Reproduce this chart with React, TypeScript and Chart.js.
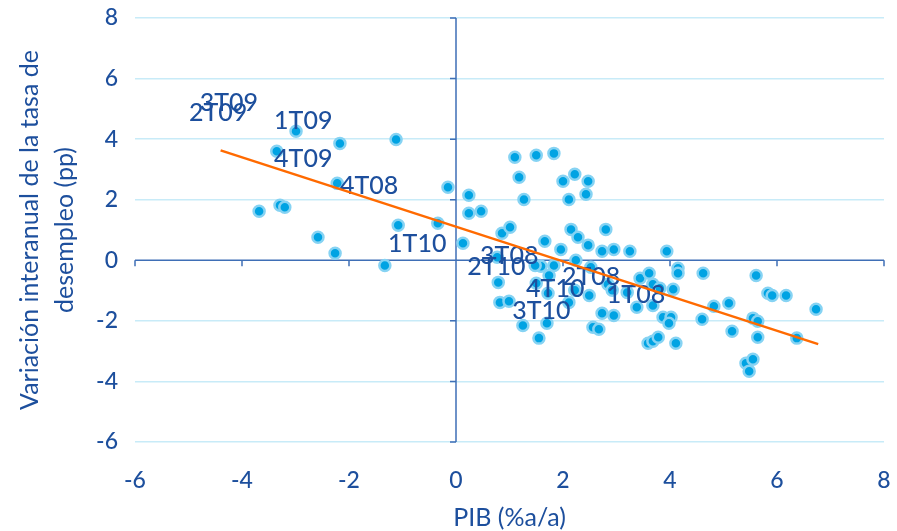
import React, { useEffect, useRef } from "react";
import { Chart, registerables } from "chart.js";

Chart.register(...registerables);

// Regional observations: GDP growth (x) vs. change in unemployment rate (y)
const regionX = [
  -2.99, -2.17, -1.12, -3.35, -2.22, -0.15, 0.24, 0.24, 0.47, -3.68, -3.29, -3.2, -1.08, -0.34, -2.58, -2.26, -1.33, 0.13,
  1.1, 1.5, 1.83, 1.18, 1.27, 2.0, 2.22, 2.47, 2.11, 2.43, 0.86, 1.01, 1.66, 1.96, 2.15, 2.28, 2.47, 2.8, 2.73, 2.95, 3.25, 2.24, 3.94,
  4.15, 4.15, 4.62, 5.61, 5.83, 5.91, 6.17, 6.73, 4.82, 5.1, 5.55, 5.64, 5.16, 5.64, 6.37, 5.42, 5.55, 5.48, 4.6, 4.11, 3.59, 3.68, 3.78,
  3.87, 4.02, 3.98, 3.38, 3.68, 3.44, 3.61, 3.68, 3.81, 4.06, 2.73, 2.95, 2.56, 2.67, 2.49, 2.52, 2.84, 2.92, 3.2,
  0.79, 0.82, 0.99, 1.25, 1.7, 1.55, 1.59, 1.83, 1.74, 1.5, 1.72, 2.22, 2.11, 0.77, 1.48,
];
const regionY = [
  4.26, 3.86, 3.99, 3.6, 2.54, 2.41, 2.15, 1.55, 1.62, 1.62, 1.82, 1.75, 1.16, 1.22, 0.76, 0.23, -0.17, 0.56,
  3.4, 3.47, 3.53, 2.74, 2.01, 2.61, 2.84, 2.61, 2.01, 2.18, 0.89, 1.09, 0.63, 0.36, 1.02, 0.76, 0.5, 1.02, 0.3, 0.36, 0.3, 0.0, 0.3,
  -0.26, -0.43, -0.43, -0.5, -1.09, -1.16, -1.16, -1.62, -1.52, -1.42, -1.91, -2.01, -2.34, -2.54, -2.57, -3.4, -3.27, -3.66, -1.95, -2.74, -2.74, -2.67, -2.54,
  -1.88, -1.88, -2.08, -1.55, -1.49, -0.59, -0.43, -0.79, -0.92, -0.96, -1.75, -1.82, -2.21, -2.28, -1.16, -0.23, -0.79, -0.99, -1.06,
  -0.73, -1.39, -1.35, -2.15, -2.08, -2.57, -0.2, -0.17, -0.5, -0.76, -1.09, -0.99, -1.39, 0.1, -0.17,
];

// National quarters (label anchors)
const quarterLabels = ["3T09", "2T09", "1T09", "4T09", "4T08", "1T10", "3T08", "2T10", "2T08", "4T10", "1T08", "3T10"];
const quarterX = [-4.79, -4.99, -3.4, -3.4, -2.17, -1.27, 0.45, 0.21, 1.98, 1.31, 2.82, 1.05];
const quarterY = [5.21, 4.85, 4.59, 3.33, 2.44, 0.53, 0.13, -0.23, -0.56, -0.96, -1.16, -1.68];

// Linear trend end points
const trendX = [-4.4, 6.77];
const trendY = [3.63, -2.77];

const xTicks = [-6, -4, -2, 0, 2, 4, 6, 8];
const yTicks = [-6, -4, -2, 0, 2, 4, 6, 8];

const TEXT = "#1d4f9d";
const AXIS = "#3f6fb6";
const GRID = "#c8ebf8";
const FONT = "Lato, 'Open Sans', sans-serif";

export default function App() {
  const ref = useRef<HTMLCanvasElement>(null);

  useEffect(() => {
    document.body.style.margin = "0";
    const canvas = ref.current;
    if (!canvas) return;

    const axesPlugin = {
      id: "zeroAxes",
      beforeDatasetsDraw(chart: any) {
        const ctx = chart.ctx;
        const xs = chart.scales.x;
        const ys = chart.scales.y;
        const x0 = xs.getPixelForValue(0);
        const y0 = ys.getPixelForValue(0);
        ctx.save();
        ctx.strokeStyle = AXIS;
        ctx.lineWidth = 1.5;
        ctx.beginPath();
        ctx.moveTo(xs.left, y0);
        ctx.lineTo(xs.right, y0);
        ctx.moveTo(x0, ys.top);
        ctx.lineTo(x0, ys.bottom);
        xTicks.forEach((v) => {
          const px = xs.getPixelForValue(v);
          ctx.moveTo(px, y0);
          ctx.lineTo(px, y0 + 6);
        });
        yTicks.forEach((v) => {
          const py = ys.getPixelForValue(v);
          ctx.moveTo(x0 - 6, py);
          ctx.lineTo(x0, py);
        });
        ctx.stroke();
        ctx.restore();
      },
    };

    const labelsPlugin = {
      id: "quarterLabels",
      afterDatasetDraw(chart: any, args: any) {
        if (args.index !== 1) return;
        const ctx = chart.ctx;
        const xs = chart.scales.x;
        const ys = chart.scales.y;
        ctx.save();
        ctx.font = `500 25px ${FONT}`;
        ctx.fillStyle = TEXT;
        ctx.textAlign = "left";
        ctx.textBaseline = "middle";
        quarterLabels.forEach((t, i) => {
          ctx.fillText(t, xs.getPixelForValue(quarterX[i]), ys.getPixelForValue(quarterY[i]));
        });
        ctx.restore();
      },
    };

    const chart = new Chart(canvas, {
      type: "scatter",
      data: {
        datasets: [
          {
            label: "CCAA",
            data: regionX.map((x, i) => ({ x, y: regionY[i] })),
            backgroundColor: "#00a3e3",
            borderColor: "#86d3f3",
            borderWidth: 2.5,
            pointRadius: 5.5,
            order: 3,
          },
          {
            label: "España",
            data: quarterX.map((x, i) => ({ x, y: quarterY[i] })),
            pointRadius: 0,
            backgroundColor: "transparent",
            borderColor: "transparent",
            order: 2,
          },
          {
            type: "line",
            label: "Tendencia",
            data: trendX.map((x, i) => ({ x, y: trendY[i] })),
            borderColor: "#ff6a00",
            borderWidth: 2.5,
            pointRadius: 0,
            showLine: true,
            fill: false,
            order: 1,
          } as any,
        ],
      },
      options: {
        responsive: false,
        animation: false,
        layout: { padding: { left: 0, right: 13, top: 18, bottom: 0 } },
        plugins: {
          legend: { display: false },
          tooltip: { enabled: false },
        },
        scales: {
          x: {
            type: "linear",
            min: -6,
            max: 8,
            afterBuildTicks: (s: any) => {
              s.ticks = xTicks.map((v) => ({ value: v }));
            },
            ticks: { color: TEXT, font: { family: FONT, size: 23, weight: "500" }, padding: 25 },
            grid: { display: false, drawTicks: false },
            border: { display: false },
            title: {
              display: true,
              text: "PIB (%a/a)",
              color: TEXT,
              font: { family: FONT, size: 25, lineHeight: 1 },
              padding: { top: 0, bottom: 1 },
            },
            afterFit: (s: any) => {
              s.height = 89;
              s.paddingLeft = 0;
              s.paddingRight = 0;
            },
          },
          y: {
            type: "linear",
            min: -6,
            max: 8,
            afterBuildTicks: (s: any) => {
              s.ticks = yTicks.map((v) => ({ value: v }));
            },
            ticks: { color: TEXT, font: { family: FONT, size: 23, weight: "500" }, padding: 17 },
            grid: {
              drawTicks: false,
              color: (c: any) => (c.tick && c.tick.value === 0 ? "rgba(0,0,0,0)" : GRID),
              lineWidth: 1.5,
            },
            border: { display: false },
            title: {
              display: true,
              text: ["Variación interanual de la tasa de", "desempleo (pp)"],
              color: TEXT,
              font: { family: FONT, size: 25, lineHeight: 1.4 },
              padding: { top: 12, bottom: 0 },
            },
            afterFit: (s: any) => {
              s.width = 135;
              s.paddingTop = 0;
              s.paddingBottom = 0;
            },
          },
        },
      },
      plugins: [axesPlugin, labelsPlugin],
    });

    return () => chart.destroy();
  }, []);

  return (
    <div style={{ width: 897, height: 531 }}>
      <canvas ref={ref} width={897} height={531} />
    </div>
  );
}
